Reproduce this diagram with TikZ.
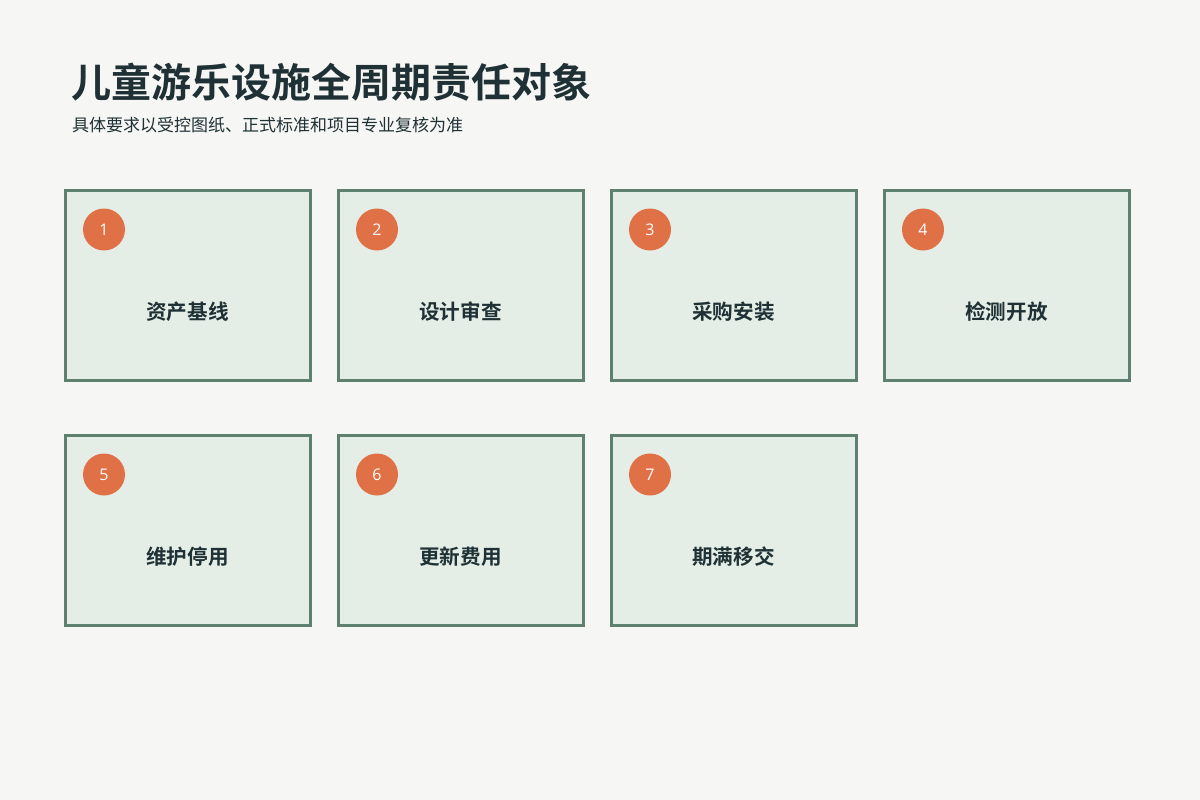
\documentclass[tikz,border=0pt]{standalone}
\usepackage{fontspec}
\setmainfont{Noto Sans CJK SC}
\newfontfamily\cjkbold{Noto Sans CJK SC Bold}
\newfontfamily\numfont{Open Sans}
\definecolor{bgc}{HTML}{F6F6F4}
\definecolor{ink}{HTML}{1F3135}
\definecolor{boxfill}{HTML}{E4EEE6}
\definecolor{boxline}{HTML}{5E806F}
\definecolor{badge}{HTML}{E07045}
\tikzset{
  card/.style={draw=boxline, line width=3pt, fill=boxfill, minimum width=245pt, minimum height=190pt, inner sep=0pt},
  badgecirc/.style={circle, fill=badge, minimum size=42pt, inner sep=0pt, text=white, font=\numfont\fontsize{16}{16}\selectfont},
  cardlabel/.style={text=ink, font=\cjkbold\fontsize{20.6}{20.6}\selectfont},
}
\begin{document}
\begin{tikzpicture}[x=1pt,y=-1pt]
\useasboundingbox[fill=bgc] (0,0) rectangle (1200,800);
\node[anchor=base west, text=ink, font=\cjkbold\fontsize{40}{40}\selectfont, inner sep=0pt] (title) at (71,97) {儿童游乐设施全周期责任对象};
\node[anchor=base west, text=ink, font=\fontsize{17}{17}\selectfont, inner sep=0pt] (sub) at (72,131) {具体要求以受控图纸、正式标准和项目专业复核为准};
\foreach \i/\x/\y/\t in {1/187.5/285/资产基线, 2/460.5/285/设计审查, 3/733.5/285/采购安装, 4/1006.5/285/检测开放, 5/187.5/530/维护停用, 6/460.5/530/更新费用, 7/733.5/530/期满移交}{
  \node[card] (c\i) at (\x,\y) {};
  \node[badgecirc] (b\i) at (\x-83.5,\y-55.5) {\i};
  \node[cardlabel] (l\i) at (\x,\y+27) {\t};
}
\end{tikzpicture}
\end{document}
